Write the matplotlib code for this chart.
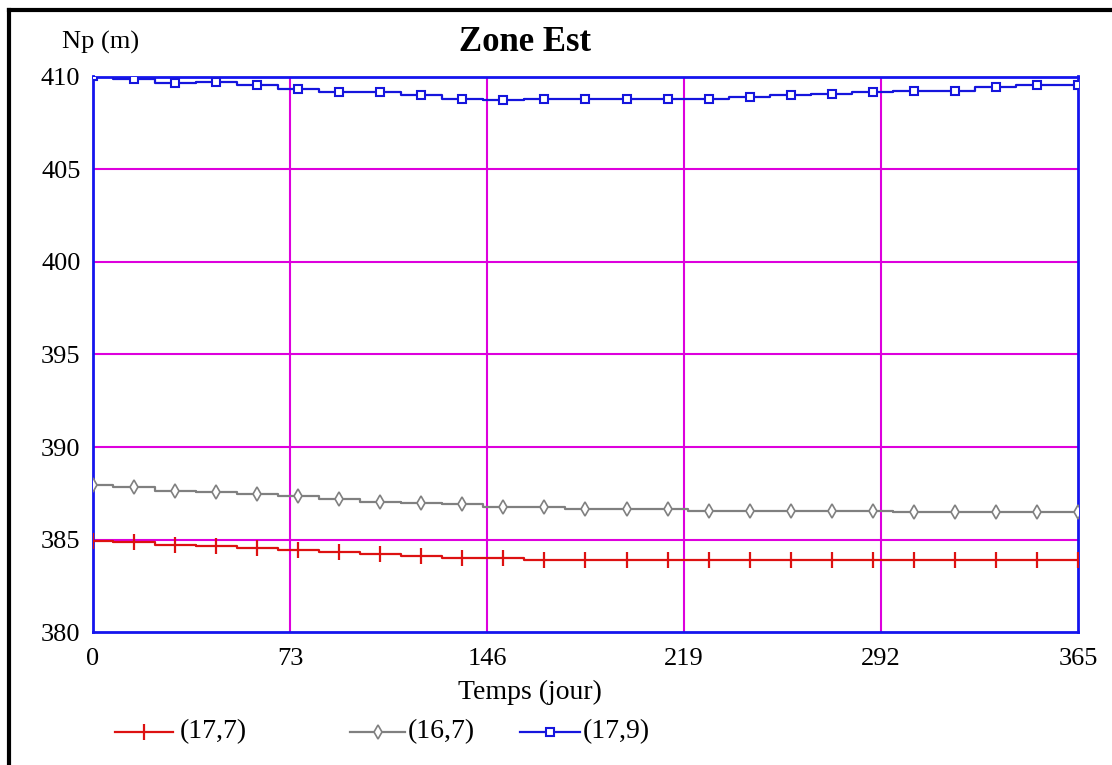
import numpy as np
import matplotlib
matplotlib.use("Agg")
import matplotlib.pyplot as plt
from matplotlib.lines import Line2D

# values read at the markers (one every 365/24 days)
jours = np.linspace(0, 365, 25)

np_17_7 = [384.93, 384.89, 384.72, 384.66, 384.57, 384.45, 384.32, 384.23, 384.14, 384.03,
           384.03, 383.91, 383.91, 383.91, 383.91, 383.91, 383.91, 383.91, 383.91, 383.91,
           383.91, 383.91, 383.91, 383.91, 383.91]
np_16_7 = [387.95, 387.86, 387.65, 387.56, 387.47, 387.38, 387.20, 387.05, 386.97, 386.91,
           386.75, 386.75, 386.64, 386.64, 386.64, 386.55, 386.55, 386.55, 386.55, 386.55,
           386.51, 386.51, 386.51, 386.51, 386.51]
np_17_9 = [410.0, 409.85, 409.67, 409.70, 409.56, 409.31, 409.18, 409.15, 409.0, 408.8,
           408.73, 408.78, 408.78, 408.78, 408.78, 408.77, 408.89, 409.0, 409.04, 409.18,
           409.23, 409.23, 409.42, 409.54, 409.56]

xticks = [0, 73, 146, 219, 292, 365]
yticks = [380, 385, 390, 395, 400, 405, 410]
labels = ['(17,7)', '(16,7)', '(17,9)']

plt.rcParams['font.family'] = ['Liberation Serif', 'DejaVu Serif']

W, H = 1112, 765
fig = plt.figure(figsize=(W / 100, H / 100), dpi=100)
ax = fig.add_axes([0.0836, 0.1735, 0.8858, 0.7265])

grid_col = '#DD00DD'
for x in xticks[1:-1]:
    ax.axvline(x, color=grid_col, lw=1.5, zorder=1)
for y in yticks[1:-1]:
    ax.axhline(y, color=grid_col, lw=1.5, zorder=1)

red, gray, blue = '#DD1111', '#808080', '#1515DD'
styles = [
    dict(color=red, marker='|', ms=11, mew=1.6),
    dict(color=gray, marker='d', ms=7, mfc='white', mew=1.2),
    dict(color=blue, marker='s', ms=6, mfc='white', mew=1.5),
]

for serie, st in zip([np_17_7, np_16_7, np_17_9], styles):
    ax.plot(jours, serie, color=st['color'], lw=1.6, drawstyle='steps-mid', zorder=3)
    ax.plot(jours, serie, lw=0, zorder=3, **st)

ax.set_xlim(0, 365)
ax.set_ylim(380, 410)
ax.set_xticks(xticks)
ax.set_yticks(yticks)
ax.tick_params(length=0, labelsize=19)
ax.tick_params(axis='y', pad=9)
ax.tick_params(axis='x', pad=11)
for s in ax.spines.values():
    s.set_color('#1515EE')
    s.set_linewidth(2)

fig.text(0.472, 0.945, 'Zone Est', fontsize=25, fontweight='bold', ha='center', va='center')
fig.text(0.09, 0.945, 'Np (m)', fontsize=19, ha='center', va='center')
fig.text(0.477, 0.095, 'Temps (jour)', fontsize=20, ha='center', va='center')

# legend drawn by hand below the axes (pixel positions)
leg_x = [(115, 173, 180), (350, 405, 408), (520, 580, 583)]
leg_y = 1 - 732 / H
for (x0, x1, xt), st, lab in zip(leg_x, styles, labels):
    fig.add_artist(Line2D([x0 / W, (x0 + x1) / 2 / W, x1 / W], [leg_y] * 3, lw=1.6,
                          markevery=[1], transform=fig.transFigure, **st))
    fig.text(xt / W, leg_y, lab, fontsize=20, ha='left', va='center')

# black frame on top and left
fig.add_artist(Line2D([9 / W, 9 / W], [0, 1 - 10 / H], color='black', lw=3,
                      transform=fig.transFigure))
fig.add_artist(Line2D([9 / W, 1], [1 - 10 / H, 1 - 10 / H], color='black', lw=3,
                      transform=fig.transFigure))

fig.savefig('out.png', dpi=100)
